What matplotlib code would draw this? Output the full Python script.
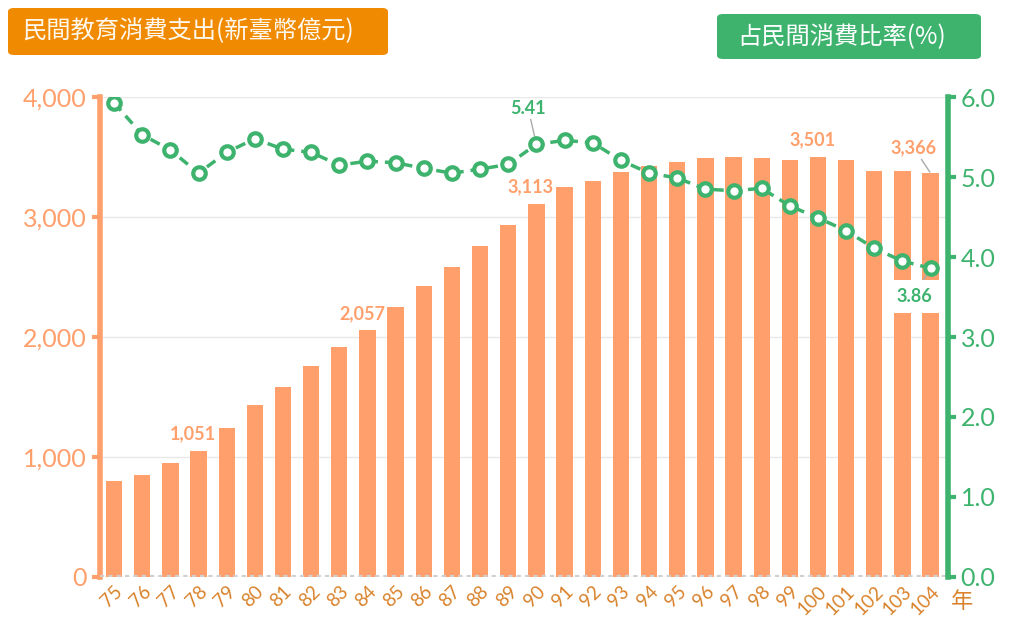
import matplotlib.pyplot as plt
from matplotlib.patches import FancyBboxPatch

plt.rcParams['font.family'] = ['Noto Sans CJK TC', 'DejaVu Sans']
num_font = ['Lato', 'DejaVu Sans']

years = list(range(75, 105))
spend = [800, 850, 950, 1051, 1242, 1433, 1583, 1758, 1917, 2057,
         2250, 2425, 2583, 2758, 2933, 3113, 3250, 3300, 3375, 3425,
         3458, 3492, 3500, 3492, 3475, 3501, 3475, 3383, 3383, 3366]
ratio = [5.93, 5.53, 5.34, 5.05, 5.31, 5.48, 5.35, 5.31, 5.15, 5.20,
         5.18, 5.11, 5.05, 5.10, 5.16, 5.41, 5.46, 5.43, 5.21, 5.05,
         4.99, 4.85, 4.83, 4.86, 4.64, 4.49, 4.33, 4.11, 3.95, 3.86]

bar_c = '#FFA06C'
orange = '#F08A00'
green = '#3DB36E'
tick_orange = '#D9822B'

fig = plt.figure(figsize=(10.15, 6.19), dpi=100)
ax = fig.add_axes([0.0985, 0.068, 0.835, 0.775])
ax2 = ax.twinx()
ax.set_zorder(1)
ax2.set_zorder(2)
ax.patch.set_visible(False)

x = list(range(len(years)))
ax.bar(x, spend, width=0.58, color=bar_c, zorder=2)
ax.set_xlim(-0.5, len(years) - 0.4)
ax.set_ylim(0, 4000)
ax.set_yticks([0, 1000, 2000, 3000, 4000])
ax.set_yticklabels(['0', '1,000', '2,000', '3,000', '4,000'], family=num_font)
ax.grid(axis='y', color='#E8E8E8', lw=1, zorder=0)
ax.axhline(0, color='#D0D0D0', lw=3, ls=(0, (1, 1)), zorder=3)
ax.set_xticks(x)
ax.set_xticklabels([str(y) for y in years], rotation=45, ha='right',
                   rotation_mode='anchor', color=tick_orange, fontsize=13.5,
                   family=num_font)
ax.tick_params(axis='x', length=0, pad=4)
ax.tick_params(axis='y', colors=bar_c, labelsize=18, length=6, width=3)
for s in ['top', 'right', 'bottom']:
    ax.spines[s].set_visible(False)
ax.spines['left'].set_color(bar_c)
ax.spines['left'].set_linewidth(4)

ax2.plot(x, ratio, color=green, lw=2.5, ls=(0, (3, 2)), marker='o', ms=9,
         mfc='white', mec=green, mew=3, zorder=5)
ax2.set_ylim(0, 6)
ax2.set_yticks([0, 1, 2, 3, 4, 5, 6])
ax2.set_yticklabels(['0.0', '1.0', '2.0', '3.0', '4.0', '5.0', '6.0'],
                    family=num_font)
ax2.tick_params(axis='y', colors=green, labelsize=18, length=6, width=3)
for s in ['top', 'left', 'bottom']:
    ax2.spines[s].set_visible(False)
ax2.spines['right'].set_color(green)
ax2.spines['right'].set_linewidth(4)

# bar labels
for i in [3, 9, 15, 25]:
    ax.annotate(f'{spend[i]:,}', (x[i], spend[i]), xytext=(-4, 6),
                textcoords='offset points', ha='center', va='bottom',
                color=bar_c, fontsize=13, fontweight='bold', family=num_font,
                zorder=6)
ax.annotate(f'{spend[-1]:,}', (x[-1], spend[-1]), xytext=(-12, 12),
            textcoords='offset points', ha='center', va='bottom',
            color=bar_c, fontsize=13, fontweight='bold', family=num_font,
            arrowprops=dict(arrowstyle='-', color='#AAAAAA', lw=1,
                            shrinkA=0, shrinkB=1))

ax2.annotate('5.41', (x[15], ratio[15]), xytext=(-6, 20),
             textcoords='offset points', ha='center', va='bottom',
             color=green, fontsize=13, fontweight='bold', family=num_font,
             arrowprops=dict(arrowstyle='-', color='#AAAAAA', lw=1,
                             shrinkA=0, shrinkB=3))
ax2.annotate('3.86', (x[-1], ratio[-1]), xytext=(-12, -14),
             textcoords='offset points', ha='center', va='top',
             color=green, fontsize=13, fontweight='bold', family=num_font,
             bbox=dict(boxstyle='square,pad=0.45', fc='white', ec='none'),
             arrowprops=dict(arrowstyle='-', color='#AAAAAA', lw=1,
                             shrinkA=0, shrinkB=3))

fig.text(0.937, 0.018, '年', color=tick_orange, fontsize=16, ha='left')

# header boxes
b1 = FancyBboxPatch((8 / 1015, 1 - 55 / 619), 380 / 1015, 47 / 619,
                    boxstyle='round,pad=0,rounding_size=0.006',
                    transform=fig.transFigure, fc=orange, ec='none')
fig.patches.append(b1)
fig.text(188 / 1015, 1 - 31 / 619, '民間教育消費支出(新臺幣億元)', color='#FFF8EE',
         fontsize=17.5, ha='center', va='center')
b2 = FancyBboxPatch((717 / 1015, 1 - 59 / 619), 264 / 1015, 45 / 619,
                    boxstyle='round,pad=0,rounding_size=0.006',
                    transform=fig.transFigure, fc=green, ec='none')
fig.patches.append(b2)
fig.text(842 / 1015, 1 - 37 / 619, '占民間消費比率(%)', color='white',
         fontsize=17.5, ha='center', va='center')

fig.savefig('out.png', dpi=100)
